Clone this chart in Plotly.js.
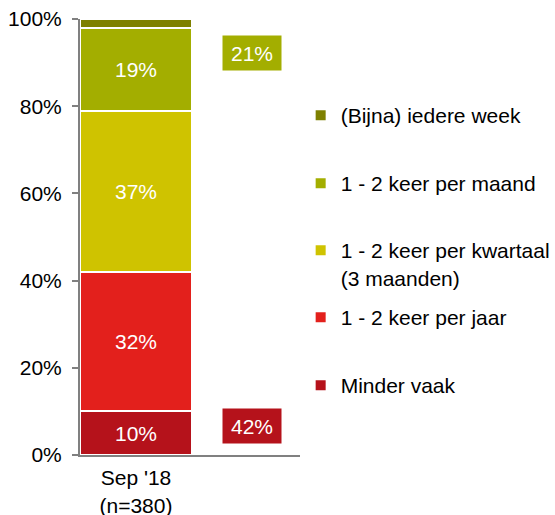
<!DOCTYPE html>
<html>
<head>
<meta charset="utf-8">
<script src="https://cdn.plot.ly/plotly-3.0.1.min.js"></script>
<style>html,body{margin:0;padding:0;background:#fff;}#chart{width:555px;height:515px;}</style>
</head>
<body>
<div id="chart"></div>
<script>
const categories = ["Sep '18<br>(n=380)"];
const seriesNames = ["Minder vaak", "1 - 2 keer per jaar", "1 - 2 keer per kwartaal<br>(3 maanden)", "1 - 2 keer per maand", "(Bijna) iedere week"];
const minderVaak = [10];
const perJaar = [32];
const perKwartaal = [37];
const perMaand = [19];
const iedereWeek = [2];
const colors = ["#B5121B", "#E3201C", "#CFC300", "#A3AE00", "#7E8000"];

const seriesValues = [minderVaak, perJaar, perKwartaal, perMaand, iedereWeek];
const xPos = categories.map((c, i) => i);
const legendIds = ['legend5', 'legend4', 'legend3', 'legend2', 'legend'];
const legendY = {legend: 0.8257, legend2: 0.6697, legend3: 0.5161, legend4: 0.3624, legend5: 0.2064};

const traces = seriesValues.map((vals, k) => ({
  type: 'bar',
  x: xPos,
  y: vals,
  name: seriesNames[k],
  width: 1,
  legend: legendIds[k],
  marker: {color: colors[k], line: {color: '#ffffff', width: 2}},
  text: vals.map(v => v + '%'),
  textposition: k === 4 ? 'none' : 'inside',
  insidetextanchor: 'middle',
  textfont: {color: '#ffffff', size: 21, family: 'Liberation Sans, Arial, sans-serif'},
  hoverinfo: 'name+y'
}));

const topSum = perMaand[0] + iedereWeek[0];
const bottomSum = minderVaak[0] + perJaar[0];

function legendCfg(y) {
  return {
    x: 1.003, y: y, xanchor: 'left', yanchor: 'top',
    valign: 'top',
    font: {size: 21, color: '#000000'},
    itemwidth: 30,
    bgcolor: 'rgba(0,0,0,0)'
  };
}

const layout = {
  width: 555, height: 515,
  margin: {l: 80, r: 255, t: 19, b: 60, autoexpand: false},
  barmode: 'stack',
  bargap: 0,
  paper_bgcolor: '#ffffff',
  plot_bgcolor: '#ffffff',
  font: {family: 'Liberation Sans, Arial, sans-serif', size: 21, color: '#000000'},
  showlegend: true,
  xaxis: {
    range: [-0.5, 1.465],
    tickmode: 'array',
    tickvals: xPos,
    ticktext: categories,
    showline: true, linecolor: '#808080', linewidth: 2,
    ticks: '', showgrid: false, zeroline: false,
    ticklabelstandoff: 3,
    tickfont: {size: 21}
  },
  yaxis: {
    range: [0, 100],
    tickvals: [0, 20, 40, 60, 80, 100],
    ticktext: ['0%', '20%', '40%', '60%', '80%', '100%'],
    showline: true, linecolor: '#808080', linewidth: 2,
    ticks: 'outside', ticklen: 6, tickcolor: '#808080', tickwidth: 2,
    ticklabelstandoff: 6,
    showgrid: false, zeroline: false,
    tickfont: {size: 21}
  },
  annotations: [
    {x: 1.04, y: 92.2, xref: 'x', yref: 'y', text: topSum + '%', showarrow: false,
     bgcolor: colors[3], font: {color: '#ffffff', size: 21}, width: 50, height: 26, borderpad: 4},
    {x: 1.04, y: 6.6, xref: 'x', yref: 'y', text: bottomSum + '%', showarrow: false,
     bgcolor: colors[0], font: {color: '#ffffff', size: 21}, width: 50, height: 26, borderpad: 4}
  ]
};
Object.keys(legendY).forEach(id => { layout[id] = legendCfg(legendY[id]); });

Plotly.newPlot('chart', traces, layout, {displayModeBar: false, staticPlot: true});
</script>
</body>
</html>
